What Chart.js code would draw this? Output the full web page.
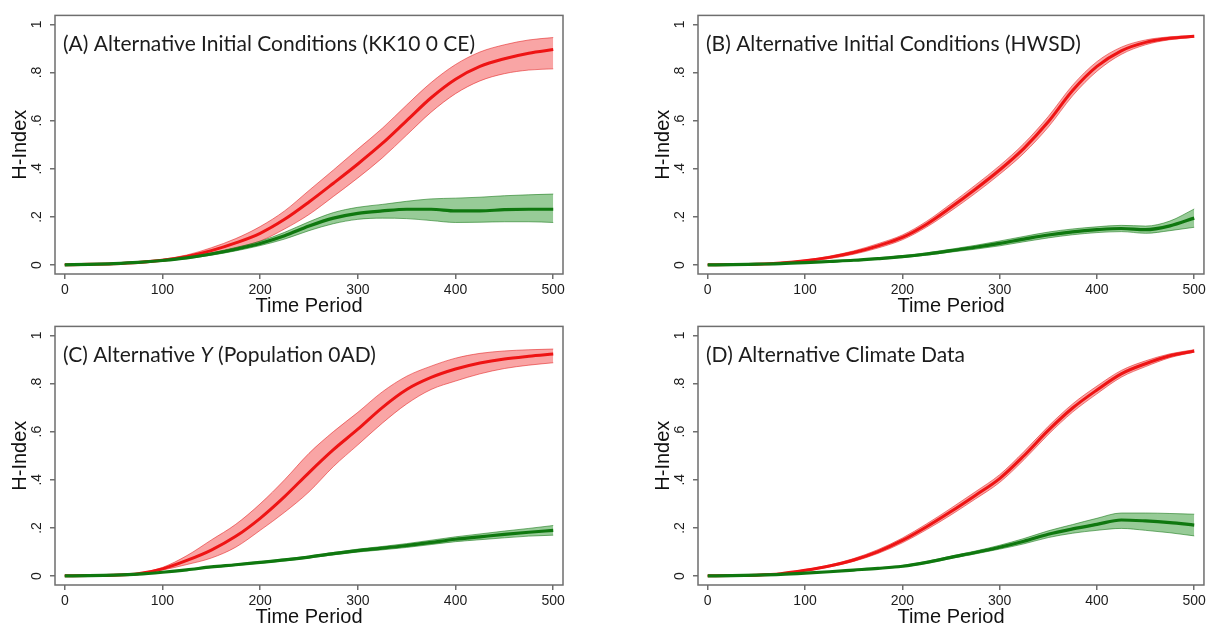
<!DOCTYPE html>
<html>
<head>
<meta charset="utf-8">
<script src="https://cdn.jsdelivr.net/npm/chart.js@4.4.1/dist/chart.umd.min.js"></script>
<style>
  html, body { margin: 0; padding: 0; background: #fff; }
  body { width: 1209px; height: 631px; position: relative; overflow: hidden; }
  .panel { position: absolute; }
</style>
</head>
<body>
<div class="panel" style="left:0;top:0;width:580px;height:316px"><canvas id="panel-a"></canvas></div>
<div class="panel" style="left:643px;top:0;width:566px;height:316px"><canvas id="panel-b"></canvas></div>
<div class="panel" style="left:0;top:311px;width:580px;height:316px"><canvas id="panel-c"></canvas></div>
<div class="panel" style="left:643px;top:311px;width:566px;height:316px"><canvas id="panel-d"></canvas></div>
<script>
const periodos = [0, 25, 50, 75, 100, 125, 150, 175, 200, 225, 250, 275, 300, 325, 350, 375, 400, 425, 450, 475, 500];
const xTicks = [0, 100, 200, 300, 400, 500];
const yTicks = [0, 0.2, 0.4, 0.6, 0.8, 1];
const yTickLabels = ["0", ".2", ".4", ".6", ".8", "1"];
const tituloX = "Time Period";
const tituloY = "H-Index";

// partes en posición impar van en cursiva
const tituloA = ["(A) Alternative Initial Conditions (KK10 0 CE)"];
const tituloB = ["(B) Alternative Initial Conditions (HWSD)"];
const tituloC = ["(C) Alternative ", "Y", " (Population 0AD)"];
const tituloD = ["(D) Alternative Climate Data"];

// ===== Panel A =====
const rojoMediaA = [0.001, 0.003, 0.006, 0.011, 0.02, 0.036, 0.06, 0.092, 0.132, 0.19, 0.262, 0.34, 0.42, 0.505, 0.6, 0.695, 0.772, 0.825, 0.857, 0.88, 0.895];
const rojoBajoA = [0.001, 0.002, 0.005, 0.009, 0.017, 0.03, 0.048, 0.072, 0.1, 0.15, 0.21, 0.285, 0.362, 0.445, 0.54, 0.635, 0.712, 0.765, 0.795, 0.81, 0.815];
const rojoAltoA = [0.002, 0.004, 0.008, 0.013, 0.024, 0.042, 0.072, 0.11, 0.16, 0.225, 0.31, 0.395, 0.482, 0.568, 0.665, 0.758, 0.833, 0.885, 0.915, 0.935, 0.945];
const verdeMediaA = [0.001, 0.003, 0.006, 0.011, 0.019, 0.03, 0.046, 0.066, 0.09, 0.122, 0.162, 0.195, 0.215, 0.225, 0.232, 0.232, 0.225, 0.225, 0.23, 0.232, 0.232];
const verdeBajoA = [0.001, 0.002, 0.005, 0.01, 0.017, 0.027, 0.041, 0.059, 0.081, 0.108, 0.143, 0.172, 0.19, 0.195, 0.193, 0.185, 0.177, 0.178, 0.18, 0.18, 0.177];
const verdeAltoA = [0.002, 0.004, 0.007, 0.012, 0.021, 0.033, 0.051, 0.073, 0.099, 0.136, 0.18, 0.218, 0.24, 0.252, 0.265, 0.275, 0.278, 0.282, 0.288, 0.292, 0.295];

// ===== Panel B =====
const rojoMediaB = [0.001, 0.002, 0.004, 0.009, 0.018, 0.032, 0.052, 0.08, 0.115, 0.17, 0.24, 0.315, 0.395, 0.485, 0.595, 0.725, 0.825, 0.89, 0.925, 0.942, 0.95];
const rojoBajoB = [0, 0.001, 0.003, 0.007, 0.015, 0.027, 0.045, 0.071, 0.105, 0.158, 0.225, 0.298, 0.377, 0.465, 0.573, 0.703, 0.805, 0.875, 0.915, 0.936, 0.946];
const rojoAltoB = [0.002, 0.003, 0.005, 0.011, 0.021, 0.037, 0.059, 0.089, 0.125, 0.182, 0.255, 0.332, 0.413, 0.505, 0.617, 0.747, 0.845, 0.905, 0.935, 0.948, 0.954];
const verdeMediaB = [0.001, 0.002, 0.004, 0.006, 0.01, 0.015, 0.02, 0.027, 0.035, 0.046, 0.06, 0.074, 0.09, 0.108, 0.125, 0.138, 0.147, 0.152, 0.147, 0.163, 0.195];
const verdeBajoB = [0, 0.001, 0.003, 0.005, 0.009, 0.013, 0.018, 0.024, 0.031, 0.041, 0.054, 0.066, 0.08, 0.097, 0.113, 0.126, 0.135, 0.139, 0.132, 0.143, 0.157];
const verdeAltoB = [0.002, 0.003, 0.005, 0.007, 0.011, 0.017, 0.022, 0.03, 0.039, 0.051, 0.066, 0.082, 0.1, 0.119, 0.137, 0.15, 0.159, 0.165, 0.162, 0.183, 0.233];

// ===== Panel C =====
const rojoMediaC = [0.001, 0.002, 0.004, 0.01, 0.03, 0.065, 0.108, 0.165, 0.24, 0.33, 0.43, 0.525, 0.61, 0.7, 0.775, 0.825, 0.86, 0.885, 0.902, 0.913, 0.922];
const rojoBajoC = [0.001, 0.002, 0.003, 0.008, 0.025, 0.048, 0.075, 0.12, 0.19, 0.265, 0.35, 0.455, 0.545, 0.635, 0.715, 0.775, 0.81, 0.84, 0.862, 0.876, 0.886];
const rojoAltoC = [0.001, 0.003, 0.005, 0.012, 0.036, 0.085, 0.15, 0.215, 0.3, 0.4, 0.51, 0.6, 0.68, 0.765, 0.83, 0.872, 0.905, 0.925, 0.935, 0.94, 0.943];
const verdeMediaC = [0.001, 0.002, 0.004, 0.008, 0.016, 0.026, 0.038, 0.047, 0.057, 0.067, 0.079, 0.093, 0.106, 0.116, 0.127, 0.14, 0.153, 0.163, 0.173, 0.182, 0.19];
const verdeBajoC = [0, 0.001, 0.003, 0.007, 0.015, 0.024, 0.036, 0.044, 0.054, 0.063, 0.075, 0.088, 0.1, 0.109, 0.119, 0.131, 0.143, 0.151, 0.159, 0.166, 0.17];
const verdeAltoC = [0.002, 0.003, 0.005, 0.009, 0.017, 0.028, 0.04, 0.05, 0.06, 0.071, 0.083, 0.098, 0.112, 0.123, 0.135, 0.149, 0.163, 0.175, 0.187, 0.198, 0.21];

// ===== Panel D =====
const rojoMediaD = [0.001, 0.002, 0.004, 0.01, 0.024, 0.042, 0.067, 0.102, 0.148, 0.205, 0.268, 0.335, 0.405, 0.5, 0.605, 0.698, 0.773, 0.84, 0.882, 0.915, 0.935];
const rojoBajoD = [0, 0.001, 0.003, 0.008, 0.021, 0.038, 0.061, 0.094, 0.138, 0.193, 0.254, 0.32, 0.389, 0.483, 0.588, 0.681, 0.757, 0.826, 0.87, 0.907, 0.93];
const rojoAltoD = [0.002, 0.003, 0.005, 0.012, 0.027, 0.046, 0.073, 0.11, 0.158, 0.217, 0.282, 0.35, 0.421, 0.517, 0.622, 0.715, 0.789, 0.854, 0.894, 0.923, 0.94];
const verdeMediaD = [0.001, 0.002, 0.004, 0.007, 0.012, 0.018, 0.025, 0.032, 0.041, 0.057, 0.078, 0.098, 0.12, 0.145, 0.174, 0.196, 0.215, 0.233, 0.229, 0.222, 0.212];
const verdeBajoD = [0.001, 0.002, 0.003, 0.006, 0.011, 0.017, 0.024, 0.03, 0.038, 0.053, 0.073, 0.092, 0.112, 0.134, 0.16, 0.178, 0.19, 0.198, 0.19, 0.18, 0.167];
const verdeAltoD = [0.001, 0.002, 0.005, 0.008, 0.013, 0.019, 0.026, 0.034, 0.044, 0.061, 0.083, 0.104, 0.128, 0.156, 0.188, 0.214, 0.24, 0.262, 0.262, 0.26, 0.257];

const ROJO = "#ee1414";
const ROJO_BANDA = "rgba(240, 40, 40, 0.42)";
const ROJO_BORDE = "rgba(225, 30, 30, 0.55)";
const VERDE = "#0f780f";
const VERDE_BANDA = "rgba(25, 140, 25, 0.45)";
const VERDE_BORDE = "rgba(15, 115, 15, 0.55)";
const GRIS = "#6e6e6e";
const TEXTO = "#1c1c1c";

const puntos = arr => periodos.map((t, i) => ({ x: t, y: arr[i] }));

// marco gris alrededor del área y título dentro del panel
const marcoYTitulo = {
  id: "marcoYTitulo",
  afterDatasetsDraw(chart, args, opts) {
    const { ctx, chartArea: a } = chart;
    ctx.save();
    ctx.strokeStyle = GRIS;
    ctx.lineWidth = 1.5;
    ctx.strokeRect(a.left, a.top, a.right - a.left, a.bottom - a.top);
    ctx.fillStyle = TEXTO;
    ctx.textBaseline = "middle";
    let x = a.left + 8;
    const y = a.top + 29;
    opts.partes.forEach((p, i) => {
      ctx.font = (i % 2 ? "italic " : "") + "21px Lato";
      ctx.fillText(p, x, y);
      x += ctx.measureText(p).width;
    });
    ctx.restore();
  }
};

function crearPanel(id, titulo, padDer, s) {
  const banda = (data, color, fill, bg, orden) => ({
    data: puntos(data), borderColor: color, borderWidth: 1, pointRadius: 0,
    fill: fill, backgroundColor: bg, order: orden, cubicInterpolationMode: "monotone"
  });
  new Chart(document.getElementById(id), {
    type: "line",
    data: {
      datasets: [
        banda(s[2], ROJO_BORDE, false, "transparent", 3),
        banda(s[3], ROJO_BORDE, "-1", ROJO_BANDA, 3),
        banda(s[5], VERDE_BORDE, false, "transparent", 2),
        banda(s[6], VERDE_BORDE, "-1", VERDE_BANDA, 2),
        { data: puntos(s[1]), borderColor: ROJO, borderWidth: 3, pointRadius: 0, fill: false, order: 1, cubicInterpolationMode: "monotone" },
        { data: puntos(s[4]), borderColor: VERDE, borderWidth: 3.2, pointRadius: 0, fill: false, order: 0, cubicInterpolationMode: "monotone" }
      ]
    },
    options: {
      responsive: true,
      maintainAspectRatio: false,
      animation: false,
      layout: { padding: { top: 11, right: padDer, left: 0, bottom: 0 } },
      plugins: {
        legend: { display: false },
        tooltip: { enabled: false },
        marcoYTitulo: { partes: titulo }
      },
      scales: {
        x: {
          type: "linear",
          min: -10,
          max: 510,
          afterBuildTicks: sc => { sc.ticks = xTicks.map(v => ({ value: v })); },
          afterFit: sc => { sc.height = 42; },
          grid: { drawOnChartArea: false, drawTicks: true, tickLength: 5, color: GRIS, lineWidth: 1.5 },
          border: { display: false },
          ticks: { color: TEXTO, padding: 3, maxRotation: 0, font: { size: 14, family: "Liberation Sans" } },
          title: { display: true, text: tituloX, color: "#111", font: { size: 20, family: "Liberation Sans", lineHeight: 1 }, padding: { top: 0, bottom: 0 } }
        },
        y: {
          min: -0.037,
          max: 1.037,
          afterBuildTicks: sc => { sc.ticks = yTicks.map(v => ({ value: v })); },
          afterFit: sc => { sc.width = 55; },
          grid: { drawOnChartArea: false, drawTicks: true, tickLength: 5, color: GRIS, lineWidth: 1.5 },
          border: { display: false },
          ticks: {
            color: TEXTO, padding: 7, minRotation: 90, maxRotation: 90, crossAlign: "center",
            font: { size: 14, family: "Liberation Sans" },
            callback: (v, i) => yTickLabels[i]
          },
          title: { display: true, text: tituloY, color: "#111", font: { size: 20, family: "Liberation Sans", lineHeight: 1 }, padding: { top: 10, bottom: 0 } }
        }
      }
    },
    plugins: [marcoYTitulo]
  });
}

crearPanel("panel-a", tituloA, 17, [null, rojoMediaA, rojoBajoA, rojoAltoA, verdeMediaA, verdeBajoA, verdeAltoA]);
crearPanel("panel-b", tituloB, 5, [null, rojoMediaB, rojoBajoB, rojoAltoB, verdeMediaB, verdeBajoB, verdeAltoB]);
crearPanel("panel-c", tituloC, 17, [null, rojoMediaC, rojoBajoC, rojoAltoC, verdeMediaC, verdeBajoC, verdeAltoC]);
crearPanel("panel-d", tituloD, 5, [null, rojoMediaD, rojoBajoD, rojoAltoD, verdeMediaD, verdeBajoD, verdeAltoD]);
</script>
</body>
</html>
